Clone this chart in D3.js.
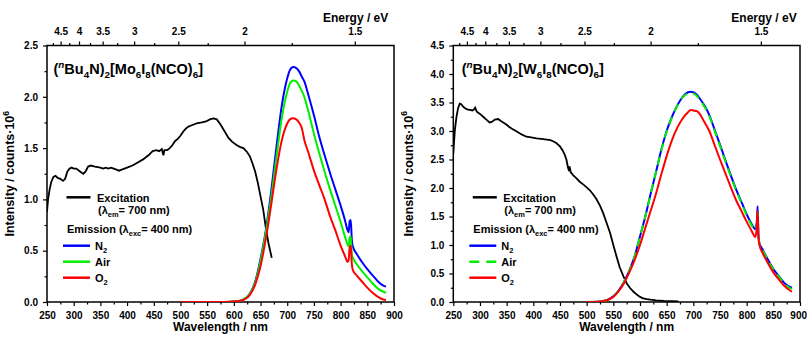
<!DOCTYPE html>
<html>
<head>
<meta charset="utf-8">
<script src="https://cdn.jsdelivr.net/npm/d3@7"></script>
<style>
  body { margin: 0; background: #fff; }
  svg text { font-family: "Liberation Sans", Arial, sans-serif; font-weight: bold; fill: #000; }
</style>
</head>
<body>
<svg id="chart" width="807" height="339"></svg>
<script>
// Mo cluster - excitation spectrum (em = 700 nm)
const moExcWl = [250, 252, 255, 258, 262, 266, 270, 275, 280, 284, 288, 292, 296, 300, 305, 310, 315, 318, 322, 327, 332, 340, 350, 355, 360, 365, 370, 375, 380, 385, 390, 395, 400, 410, 420, 430, 440, 448, 455, 460, 465, 468, 470, 475, 480, 485, 490, 495, 500, 505, 510, 515, 520, 525, 530, 540, 548, 555, 562, 568, 575, 582, 590, 597, 605, 612, 618, 625, 630, 635, 640, 645, 650, 655, 660, 665, 671];
const moExcVal = [0.88, 1.0, 1.1, 1.17, 1.22, 1.23, 1.21, 1.2, 1.18, 1.2, 1.27, 1.3, 1.31, 1.3, 1.3, 1.28, 1.26, 1.25, 1.27, 1.32, 1.33, 1.32, 1.31, 1.3, 1.31, 1.3, 1.31, 1.3, 1.29, 1.28, 1.29, 1.3, 1.31, 1.33, 1.36, 1.39, 1.43, 1.47, 1.48, 1.47, 1.49, 1.43, 1.48, 1.48, 1.5, 1.53, 1.57, 1.59, 1.62, 1.66, 1.69, 1.71, 1.72, 1.73, 1.74, 1.75, 1.76, 1.78, 1.79, 1.78, 1.73, 1.67, 1.6, 1.56, 1.53, 1.51, 1.5, 1.46, 1.42, 1.35, 1.27, 1.16, 1.03, 0.9, 0.72, 0.57, 0.43];

// Mo cluster - emission spectra (exc = 400 nm)
const moEmWl = [500, 520, 540, 560, 580, 600, 610, 620, 630, 640, 650, 660, 670, 680, 690, 700, 705, 711, 717, 722, 727, 732, 740, 750, 760, 770, 780, 790, 800, 808, 813, 815, 817, 819, 821, 823, 830, 840, 850, 860, 870, 880, 885];
const moN2 = [0, 0, 0, 0, 0, 0.005, 0.01, 0.03, 0.08, 0.2, 0.42, 0.7, 1.08, 1.52, 1.92, 2.18, 2.26, 2.29, 2.28, 2.25, 2.2, 2.15, 2.01, 1.82, 1.61, 1.43, 1.26, 1.1, 0.94, 0.8, 0.7, 0.68, 0.79, 0.8, 0.6, 0.54, 0.47, 0.39, 0.32, 0.26, 0.2, 0.16, 0.15];
const moAir = [0, 0, 0, 0, 0, 0.005, 0.01, 0.03, 0.08, 0.19, 0.4, 0.68, 1.02, 1.42, 1.8, 2.05, 2.13, 2.16, 2.15, 2.11, 2.06, 2.0, 1.85, 1.64, 1.45, 1.27, 1.1, 0.94, 0.78, 0.64, 0.56, 0.54, 0.63, 0.64, 0.46, 0.43, 0.37, 0.3, 0.24, 0.18, 0.13, 0.1, 0.09];
const moO2 = [0, 0, 0, 0, 0, 0.004, 0.01, 0.025, 0.07, 0.17, 0.35, 0.62, 0.95, 1.3, 1.58, 1.74, 1.78, 1.79, 1.78, 1.75, 1.7, 1.58, 1.45, 1.28, 1.14, 1.0, 0.84, 0.7, 0.55, 0.45, 0.39, 0.41, 0.53, 0.55, 0.37, 0.31, 0.26, 0.2, 0.14, 0.09, 0.05, 0.025, 0.02];

// W cluster - excitation spectrum (em = 700 nm)
const wExcWl = [250, 251, 253, 256, 259, 262, 265, 268, 272, 276, 281, 286, 289, 291, 294, 300, 306, 312, 318, 322, 328, 334, 340, 345, 350, 355, 360, 369, 378, 387, 396, 406, 415, 425, 432, 437, 443, 450, 455, 459, 462, 465, 467, 468, 470, 475, 481, 487, 494, 500, 506, 512, 518, 525, 531, 537, 544, 550, 556, 562, 569, 575, 581, 588, 594, 600, 606, 613, 620, 630, 645, 660, 672];
const wExcVal = [2.6, 2.75, 3.02, 3.25, 3.4, 3.48, 3.47, 3.43, 3.4, 3.38, 3.37, 3.36, 3.38, 3.41, 3.34, 3.3, 3.25, 3.2, 3.15, 3.16, 3.2, 3.21, 3.17, 3.14, 3.11, 3.07, 3.04, 2.99, 2.94, 2.9, 2.89, 2.87, 2.86, 2.85, 2.84, 2.82, 2.79, 2.73, 2.66, 2.58, 2.5, 2.36, 2.3, 2.38, 2.28, 2.22, 2.17, 2.11, 2.06, 2.01, 1.96, 1.89, 1.81, 1.69, 1.56, 1.4, 1.21, 1.0, 0.8, 0.61, 0.45, 0.33, 0.25, 0.18, 0.13, 0.09, 0.065, 0.05, 0.04, 0.03, 0.02, 0.015, 0.01];

// W cluster - emission spectra (exc = 400 nm)
const wEmWl = [500, 520, 530, 540, 550, 560, 570, 580, 590, 600, 610, 620, 630, 640, 650, 660, 670, 680, 690, 695, 700, 706, 712, 720, 730, 740, 750, 760, 770, 780, 790, 800, 808, 813, 816, 819, 820.5, 822, 824, 830, 840, 850, 860, 870, 880, 885];
const wN2 = [0, 0.005, 0.015, 0.04, 0.1, 0.2, 0.35, 0.55, 0.8, 1.15, 1.5, 1.9, 2.28, 2.67, 3.0, 3.25, 3.45, 3.6, 3.68, 3.69, 3.68, 3.64, 3.57, 3.46, 3.28, 3.02, 2.76, 2.49, 2.23, 1.98, 1.76, 1.54, 1.39, 1.31, 1.28, 1.4, 1.68, 1.2, 1.03, 0.92, 0.74, 0.58, 0.46, 0.34, 0.27, 0.25];
const wAir = [0, 0.005, 0.015, 0.04, 0.1, 0.2, 0.35, 0.55, 0.8, 1.15, 1.5, 1.9, 2.28, 2.66, 2.99, 3.24, 3.44, 3.59, 3.66, 3.67, 3.66, 3.62, 3.55, 3.44, 3.26, 3.0, 2.74, 2.47, 2.21, 1.96, 1.74, 1.52, 1.37, 1.29, 1.26, 1.36, 1.58, 1.18, 1.02, 0.91, 0.73, 0.57, 0.45, 0.33, 0.25, 0.23];
const wO2 = [0, 0.005, 0.015, 0.04, 0.09, 0.19, 0.33, 0.52, 0.74, 1.0, 1.3, 1.6, 1.9, 2.24, 2.56, 2.84, 3.06, 3.22, 3.33, 3.37, 3.36, 3.35, 3.3, 3.17, 3.0, 2.75, 2.5, 2.26, 2.02, 1.79, 1.6, 1.41, 1.27, 1.18, 1.14, 1.3, 1.6, 1.15, 1.0, 0.86, 0.68, 0.52, 0.4, 0.29, 0.21, 0.18];

// tick labels
const wlTicks = [250, 300, 350, 400, 450, 500, 550, 600, 650, 700, 750, 800, 850, 900];
const energyTicks = [4.5, 4, 3.5, 3, 2.5, 2, 1.5];
const energyMinor = [4.75, 4.25, 3.75, 3.25, 2.75, 2.25, 1.75];
const moYTicks = [0, 0.5, 1.0, 1.5, 2.0, 2.5];
const wYTicks = [0, 0.5, 1.0, 1.5, 2.0, 2.5, 3.0, 3.5, 4.0, 4.5];

const HC = 1239.84;
const TOP = 45.5, BOTTOM = 302;
const svg = d3.select('#chart');

// writes text with sub/superscript pieces
function rich(sel, parts, size) {
    let cur = 0;
    parts.forEach(([t, k]) => {
        const off = k === 'sub' ? size * 0.3 : (k === 'sup' || k === 'supi') ? -size * 0.42 : 0;
        const ts = sel.append('tspan').attr('dy', off - cur).text(t);
        if (k) ts.attr('font-size', size * 0.68);
        if (k === 'supi') ts.attr('font-style', 'italic');
        cur = off;
    });
}

function drawPanel(p) {
    const g = svg.append('g');
    const x = d3.scaleLinear().domain([250, 900]).range([p.left, p.right]);
    const y = d3.scaleLinear().domain([0, p.yMax]).range([BOTTOM, TOP]);

    const minor = (arr) => arr.slice(0, -1).map((v, i) => (v + arr[i + 1]) / 2);

    // bottom axis
    g.append('g').attr('transform', `translate(0,${BOTTOM})`)
        .call(d3.axisBottom(x).tickValues(wlTicks).tickSize(4).tickPadding(6).tickFormat(d3.format('d')))
        .call(a => a.select('.domain').remove())
        .call(a => a.selectAll('text').attr('font-size', 10))
        .call(a => a.selectAll('text').filter(d => d === 900).attr('dx', p.lastDx));
    g.append('g').attr('transform', `translate(0,${BOTTOM})`)
        .call(d3.axisBottom(x).tickValues(minor(wlTicks)).tickSize(2.5).tickFormat(''))
        .call(a => a.select('.domain').remove());

    // left axis
    g.append('g').attr('transform', `translate(${p.left},0)`)
        .call(d3.axisLeft(y).tickValues(p.yTicks).tickSize(4).tickPadding(5).tickFormat(d3.format('.1f')))
        .call(a => a.select('.domain').remove())
        .call(a => a.selectAll('text').attr('font-size', 10));
    g.append('g').attr('transform', `translate(${p.left},0)`)
        .call(d3.axisLeft(y).tickValues(minor(p.yTicks)).tickSize(2.5).tickFormat(''))
        .call(a => a.select('.domain').remove());

    // top energy axis
    g.append('g').attr('transform', `translate(0,${TOP})`)
        .call(d3.axisTop(x).tickValues(energyTicks.map(e => HC / e)).tickSize(4).tickPadding(7)
            .tickFormat(d => String(Math.round(HC / d * 100) / 100)))
        .call(a => a.select('.domain').remove())
        .call(a => a.selectAll('text').attr('font-size', 10));
    g.append('g').attr('transform', `translate(0,${TOP})`)
        .call(d3.axisTop(x).tickValues(energyMinor.map(e => HC / e)).tickSize(2.5).tickFormat(''))
        .call(a => a.select('.domain').remove());

    g.selectAll('.tick line').attr('stroke', '#000').attr('stroke-width', 1.2);

    // frame
    g.append('rect')
        .attr('x', p.left).attr('y', TOP)
        .attr('width', p.right - p.left).attr('height', BOTTOM - TOP)
        .attr('fill', 'none').attr('stroke', '#000').attr('stroke-width', 1.5);

    // curves
    const clipId = 'clip' + p.id;
    svg.append('clipPath').attr('id', clipId).append('rect')
        .attr('x', p.left).attr('y', TOP).attr('width', p.right - p.left).attr('height', BOTTOM - TOP);
    const plot = g.append('g').attr('clip-path', `url(#${clipId})`);

    const lineExc = d3.line().x(d => x(d[0])).y(d => y(d[1]));
    const lineEm = d3.line().x(d => x(d[0])).y(d => y(d[1])).curve(d3.curveMonotoneX);

    plot.append('path').datum(d3.zip(p.excWl, p.excVal))
        .attr('d', lineExc).attr('fill', 'none').attr('stroke', '#000').attr('stroke-width', 1.8);
    p.series.forEach(s => {
        plot.append('path').datum(d3.zip(p.emWl, s.values))
            .attr('d', lineEm).attr('fill', 'none').attr('stroke', s.color)
            .attr('stroke-width', 2).attr('stroke-dasharray', s.dash || null)
            .attr('stroke-linejoin', 'round');
    });

    // labels
    g.append('text').attr('x', (p.left + p.right) / 2).attr('y', 331)
        .attr('text-anchor', 'middle').attr('font-size', 12).text('Wavelength / nm');
    g.append('text').attr('x', p.right - p.energyOff).attr('y', 22)
        .attr('text-anchor', 'end').attr('font-size', 12).text('Energy / eV');
    const yl = g.append('text')
        .attr('transform', `translate(${p.yLabelX},${(TOP + BOTTOM) / 2}) rotate(-90)`)
        .attr('text-anchor', 'middle').attr('font-size', 12.5);
    rich(yl, [['Intensity / counts·10', ''], ['6', 'sup']], 12.5);

    const title = g.append('text').attr('x', p.left + p.titleOff).attr('y', 74).attr('font-size', 14.5);
    rich(title, p.title, 14.5);

    // legend
    const L = p.left;
    g.append('line').attr('x1', L + 19.5).attr('x2', L + 43.5).attr('y1', 197.3).attr('y2', 197.3)
        .attr('stroke', '#000').attr('stroke-width', 2.5);
    g.append('text').attr('x', L + 50).attr('y', 201.5).attr('font-size', 11).text('Excitation');
    const t1 = g.append('text').attr('x', L + 51).attr('y', 213.5).attr('font-size', 11);
    rich(t1, [['(λ', ''], ['em', 'sub'], ['= 700 nm)', '']], 11);
    const t2 = g.append('text').attr('x', L + 20).attr('y', 232.5).attr('font-size', 11);
    rich(t2, [['Emission  (λ', ''], ['exc', 'sub'], ['= 400 nm)', '']], 11);
    p.series.forEach((s, i) => {
        const ly = 245.7 + i * 16;
        g.append('line').attr('x1', L + 16).attr('x2', L + 43).attr('y1', ly).attr('y2', ly)
            .attr('stroke', s.color).attr('stroke-width', 2.5)
            .attr('stroke-dasharray', s.dash ? '10,7' : null);
        const lt = g.append('text').attr('x', L + 48).attr('y', ly + 4).attr('font-size', 11);
        rich(lt, s.label, 11);
    });
}

drawPanel({
    id: 'mo', left: 47, right: 394, yMax: 2.5, yTicks: moYTicks,
    excWl: moExcWl, excVal: moExcVal, emWl: moEmWl,
    yLabelX: 14, energyOff: 5.7, titleOff: 6.5, lastDx: 0,
    title: [['(', ''], ['n', 'supi'], ['Bu', ''], ['4', 'sub'], ['N)', ''], ['2', 'sub'], ['[Mo', ''], ['6', 'sub'], ['I', ''], ['8', 'sub'], ['(NCO)', ''], ['6', 'sub'], [']', '']],
    series: [
        { values: moN2, color: '#0000ff', label: [['N', ''], ['2', 'sub']] },
        { values: moAir, color: '#00ee00', label: [['Air', '']] },
        { values: moO2, color: '#ff0000', label: [['O', ''], ['2', 'sub']] }
    ]
});

drawPanel({
    id: 'w', left: 453.3, right: 800, yMax: 4.5, yTicks: wYTicks,
    excWl: wExcWl, excVal: wExcVal, emWl: wEmWl,
    yLabelX: 412.5, energyOff: 3.3, titleOff: 8.4, lastDx: -1.8,
    title: [['(', ''], ['n', 'supi'], ['Bu', ''], ['4', 'sub'], ['N)', ''], ['2', 'sub'], ['[W', ''], ['6', 'sub'], ['I', ''], ['8', 'sub'], ['(NCO)', ''], ['6', 'sub'], [']', '']],
    series: [
        { values: wN2, color: '#0000ff', label: [['N', ''], ['2', 'sub']] },
        { values: wAir, color: '#00ee00', dash: '8,6', label: [['Air', '']] },
        { values: wO2, color: '#ff0000', label: [['O', ''], ['2', 'sub']] }
    ]
});
</script>
</body>
</html>
